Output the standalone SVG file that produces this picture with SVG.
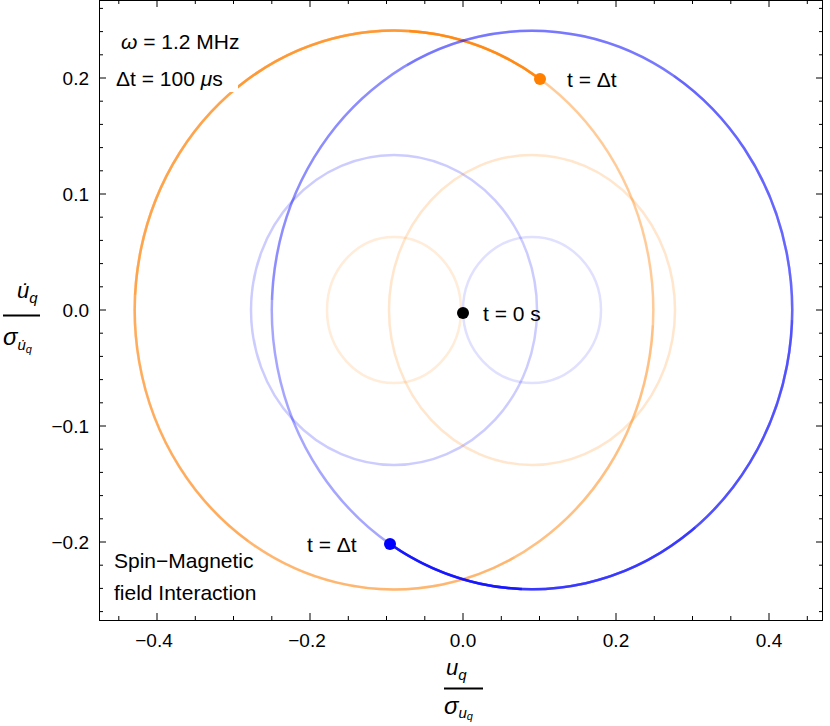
<svg xmlns="http://www.w3.org/2000/svg" xmlns:xlink="http://www.w3.org/1999/xlink" width="830" height="726" viewBox="0 0 830 726">
<style>
text{font-family:"Liberation Sans",Arial,sans-serif;fill:#000}
.tk{font-size:19px}
.lb{font-size:21px}
.ax{stroke:#000;stroke-width:1;fill:none}
.c{fill:none;stroke-width:2.5}
</style>
<defs>
<path id="po" pathLength="360" d="M540,79 A258,278 0 0 0 248,541 A258,278 0 0 0 540,79"/>
<path id="pb" pathLength="360" d="M390,544 A259,278 0 0 0 674,76 A259,278 0 0 0 390,544"/>
</defs>
<rect width="830" height="726" fill="#fff"/>
<g id="faint">
<ellipse cx="394" cy="310" rx="67" ry="73" class="c" stroke="#ff8000" stroke-opacity="0.15"/>
<ellipse cx="532" cy="310" rx="69" ry="73" class="c" stroke="#0000ff" stroke-opacity="0.12"/>
<ellipse cx="394" cy="310" rx="143" ry="155" class="c" stroke="#0000ff" stroke-opacity="0.2"/>
<ellipse cx="532" cy="310" rx="143" ry="155" class="c" stroke="#ff8000" stroke-opacity="0.2"/>
</g>
<g id="orange-trail" class="c" stroke="#ff8000">
<use xlink:href="#po" stroke-opacity="0.4"/>
<use xlink:href="#po" stroke-opacity="0.15" stroke-dasharray="300 400"/>
<use xlink:href="#po" stroke-opacity="0.15" stroke-dasharray="240 400"/>
<use xlink:href="#po" stroke-opacity="0.15" stroke-dasharray="180 400"/>
<use xlink:href="#po" stroke-opacity="0.2" stroke-dasharray="120 400"/>
<use xlink:href="#po" stroke-opacity="0.3" stroke-dasharray="70 400"/>
<use xlink:href="#po" stroke-opacity="0.6" stroke-dasharray="30 400"/>
</g>
<g id="blue-trail" class="c" stroke="#0000ff">
<use xlink:href="#pb" stroke-opacity="0.35"/>
<use xlink:href="#pb" stroke-opacity="0.15" stroke-dasharray="300 400"/>
<use xlink:href="#pb" stroke-opacity="0.15" stroke-dasharray="240 400"/>
<use xlink:href="#pb" stroke-opacity="0.15" stroke-dasharray="180 400"/>
<use xlink:href="#pb" stroke-opacity="0.2" stroke-dasharray="120 400"/>
<use xlink:href="#pb" stroke-opacity="0.3" stroke-dasharray="70 400"/>
<use xlink:href="#pb" stroke-opacity="0.6" stroke-dasharray="30 400"/>
</g>
<g id="points">
<circle cx="463" cy="313" r="6" fill="#000"/>
<circle cx="540" cy="79" r="6" fill="#ff8000"/>
<circle cx="390" cy="544" r="6" fill="#0000ff"/>
</g>
<g id="labels" class="lb">
<rect x="112" y="64" width="126" height="28" fill="#fff"/>
<text x="121" y="49"><tspan font-style="italic">ω</tspan> = 1.2 MHz</text>
<text x="116" y="86">Δt = 100 <tspan font-style="italic">μ</tspan>s</text>
<text x="567" y="87">t = Δt</text>
<text x="483" y="321">t = 0 s</text>
<text x="307" y="552">t = Δt</text>
<text x="114" y="568">Spin−Magnetic</text>
<text x="114" y="600">field Interaction</text>
</g>
<g id="axes">
<rect x="99.5" y="0.5" width="723" height="620" class="ax"/>
<path class="ax" d="M99,8.4h4M99,31.6h4M99,54.8h4M99,78h7M99,101.2h4M99,124.4h4M99,147.6h4M99,170.8h4M99,194h7M99,217.2h4M99,240.4h4M99,263.6h4M99,286.8h4M99,310h7M99,333.2h4M99,356.4h4M99,379.6h4M99,402.8h4M99,426h7M99,449.2h4M99,472.4h4M99,495.6h4M99,518.8h4M99,542h7M99,565.2h4M99,588.4h4M99,611.6h4"/>
<path class="ax" d="M823,8.4h-4M823,31.6h-4M823,54.8h-4M823,78h-7M823,101.2h-4M823,124.4h-4M823,147.6h-4M823,170.8h-4M823,194h-7M823,217.2h-4M823,240.4h-4M823,263.6h-4M823,286.8h-4M823,310h-7M823,333.2h-4M823,356.4h-4M823,379.6h-4M823,402.8h-4M823,426h-7M823,449.2h-4M823,472.4h-4M823,495.6h-4M823,518.8h-4M823,542h-7M823,565.2h-4M823,588.4h-4M823,611.6h-4"/>
<path class="ax" d="M118.8,620v-4M157,620v-7M195.3,620v-4M233.5,620v-4M271.8,620v-4M310,620v-7M348.3,620v-4M386.5,620v-4M424.8,620v-4M463,620v-7M501.3,620v-4M539.5,620v-4M577.8,620v-4M616,620v-7M654.3,620v-4M692.5,620v-4M730.8,620v-4M769,620v-7M807.3,620v-4"/>
<path class="ax" d="M118.8,0v4M157,0v7M195.3,0v4M233.5,0v4M271.8,0v4M310,0v7M348.3,0v4M386.5,0v4M424.8,0v4M463,0v7M501.3,0v4M539.5,0v4M577.8,0v4M616,0v7M654.3,0v4M692.5,0v4M730.8,0v4M769,0v7M807.3,0v4"/>
<g class="tk" text-anchor="end">
<text x="89" y="85">0.2</text>
<text x="89" y="201">0.1</text>
<text x="89" y="317">0.0</text>
<text x="89" y="433">−0.1</text>
<text x="89" y="549">−0.2</text>
</g>
<g class="tk" text-anchor="middle">
<text x="154" y="647">−0.4</text>
<text x="307" y="647">−0.2</text>
<text x="463" y="647">0.0</text>
<text x="616" y="647">0.2</text>
<text x="769" y="647">0.4</text>
</g>
<g id="xlabel">
<text x="446" y="675" font-size="22" font-style="italic">u<tspan font-size="15" dy="5">q</tspan></text>
<path d="M444,688.5h39" stroke="#000" stroke-width="2"/>
<text x="444" y="714" font-size="24" font-style="italic">σ<tspan font-size="15" dy="4">u<tspan font-size="11" dy="2">q</tspan></tspan></text>
</g>
<g id="ylabel">
<text x="17" y="298" font-size="22" font-style="italic">u̇<tspan font-size="15" dy="5">q</tspan></text>
<path d="M3,315.5h37" stroke="#000" stroke-width="2"/>
<text x="3" y="345" font-size="24" font-style="italic">σ<tspan font-size="15" dy="5">u̇<tspan font-size="11" dy="3">q</tspan></tspan></text>
</g>
</g>
</svg>
